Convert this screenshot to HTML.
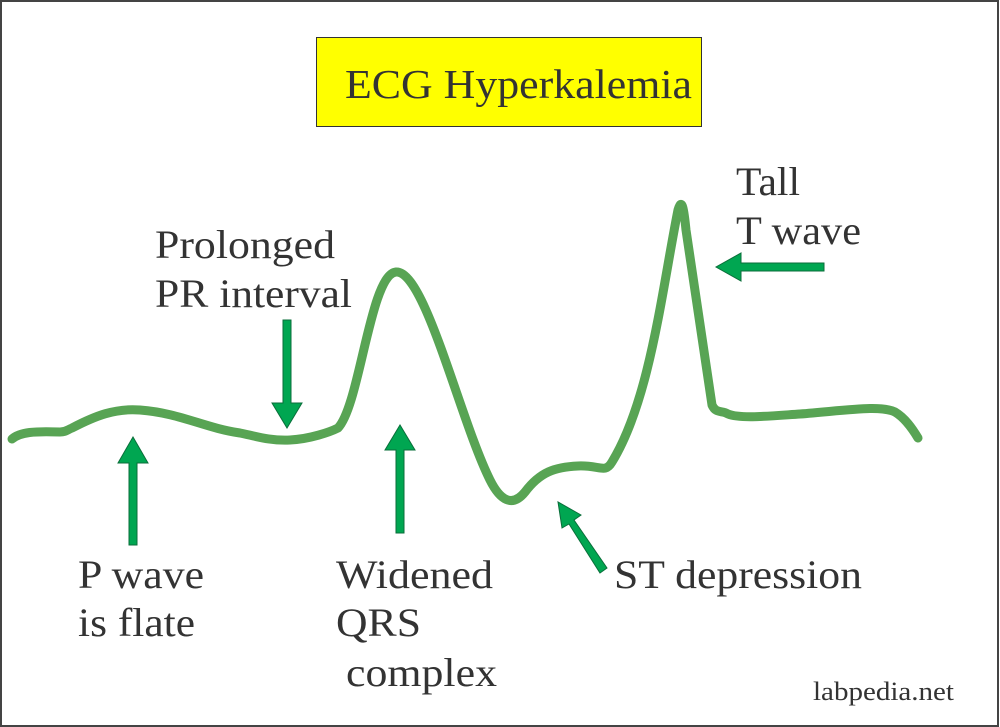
<!DOCTYPE html>
<html><head><style>
html,body{margin:0;padding:0;background:#fff}
svg{display:block}
text{font-family:"Liberation Serif",serif;fill:#333}
</style></head><body>
<svg width="1000" height="727" viewBox="0 0 1000 727">
<rect x="1" y="1" width="997" height="725" fill="#fff" stroke="#444" stroke-width="2"/>
<rect x="316.5" y="37.5" width="385" height="89" fill="#ffff00" stroke="#333" stroke-width="1"/>
<text x="345" y="98" font-size="41" textLength="347" lengthAdjust="spacingAndGlyphs">ECG Hyperkalemia</text>
<path d="M12,439 C20,432 35,431 60,432 C66,432 67,430 72,428 C95,416 115,408 140,410 C180,413 205,428 240,433 C255,436 270,441 290,440 C310,439 330,432 338,428 C360,405 370,275 396,272 C425,270 460,420 490,480 C500,500 512,508 525,492 C540,472 555,467 578,466 C600,465 605,474 612,462 C650,400 662,290 678,210 C682,196 684,210 686,230 L712,405 C716,414 722,410 728,414 C740,419 770,416 800,414 C850,410 880,405 895,412 C905,418 912,428 918,438" fill="none" stroke="#58a454" stroke-width="9" stroke-linecap="round" stroke-linejoin="round"/>
<g fill="#00a651" stroke="#0a6e3a" stroke-width="1">
<polygon points="129,545 137,545 137,463 148,463 133,437 118,463 129,463"/>
<polygon points="283,320 291,320 291,403 302,403 287,428 272,403 283,403"/>
<polygon points="396,533 404,533 404,450 415,450 400,425 385,450 396,450"/>
<polygon points="824,263 824,271 741,271 741,281 716,267 741,253 741,263"/>
<polygon points="600,573 607,568 574,520 581,515 558,502 562,528 569,524"/>
</g>
<g font-size="40" lengthAdjust="spacingAndGlyphs">
<text x="155" y="258" textLength="180" lengthAdjust="spacingAndGlyphs">Prolonged</text>
<text x="155" y="307" textLength="197" lengthAdjust="spacingAndGlyphs">PR interval</text>
<text x="736" y="195" textLength="64" lengthAdjust="spacingAndGlyphs">Tall</text>
<text x="736" y="244" textLength="125" lengthAdjust="spacingAndGlyphs">T wave</text>
<text x="78" y="588" textLength="126" lengthAdjust="spacingAndGlyphs">P wave</text>
<text x="78" y="636" textLength="117" lengthAdjust="spacingAndGlyphs">is flate</text>
<text x="336" y="588" textLength="157" lengthAdjust="spacingAndGlyphs">Widened</text>
<text x="336" y="636" textLength="85" lengthAdjust="spacingAndGlyphs">QRS</text>
<text x="346" y="686" textLength="151" lengthAdjust="spacingAndGlyphs">complex</text>
<text x="614" y="588" textLength="248" lengthAdjust="spacingAndGlyphs">ST depression</text>
</g>
<text x="813" y="700" font-size="26" textLength="141" lengthAdjust="spacingAndGlyphs">labpedia.net</text>
</svg>
</body></html>
